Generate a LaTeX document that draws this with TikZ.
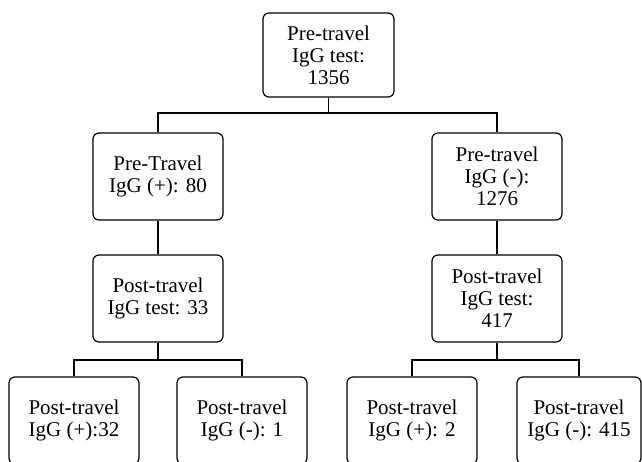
\documentclass[tikz,border=0pt]{standalone}
\usepackage{fontspec}
\setmainfont{Liberation Serif}
\begin{document}
\begin{tikzpicture}[x=1pt,y=1pt,
  box/.style={draw, line width=1.2pt, rounded corners=6pt, align=center,
    minimum width=130pt, minimum height=87pt, inner sep=0pt,
    font=\fontsize{21}{22}\selectfont},
  link/.style={draw, line width=1.2pt}]
\useasboundingbox (0,0) rectangle (642,-461);
\clip (0,0) rectangle (642,-461);
\node[box, minimum width=131pt, minimum height=84pt] (top) at (328.5,-55) {Pre-travel\\IgG test:\\1356};
\node[box] (l1) at (158,-176.5) {Pre-Travel\\IgG (+): 80};
\node[box] (l2) at (158,-298.5) {Post-travel\\IgG test: 33};
\node[box] (r1) at (497,-176.5) {Pre-travel\\IgG (-):\\1276};
\node[box] (r2) at (497,-298.5) {Post-travel\\IgG test:\\417};
\node[box] (b1) at (74,-420.5) {Post-travel\\IgG (+):32};
\node[box] (b2) at (242,-420.5) {Post-travel\\IgG (-): 1};
\node[box] (b3) at (412,-420.5) {Post-travel\\IgG (+): 2};
\node[box, minimum width=124pt] (b4) at (579,-420.5) {Post-travel\\IgG (-): 415};
\coordinate (h0) at (328.5,-113);
\coordinate (hl) at (158,-360);
\coordinate (hr) at (497,-360);
\draw[link] (top.south) -- (h0);
\draw[link] (l1.north) -- (l1.north |- h0) -- (r1.north |- h0) -- (r1.north);
\draw[link] (l1.south) -- (l2.north);
\draw[link] (r1.south) -- (r2.north);
\draw[link] (l2.south) -- (hl);
\draw[link] (r2.south) -- (hr);
\draw[link] (b1.north) -- (b1.north |- hl) -- (b2.north |- hl) -- (b2.north);
\draw[link] (b3.north) -- (b3.north |- hr) -- (b4.north |- hr) -- (b4.north);
\end{tikzpicture}
\end{document}
